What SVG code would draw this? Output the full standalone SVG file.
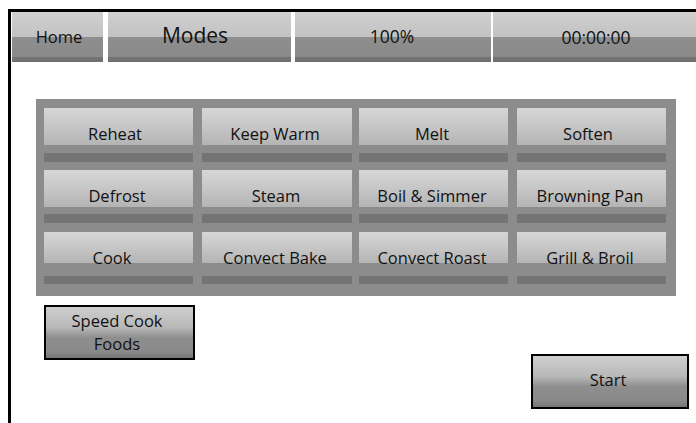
<svg xmlns="http://www.w3.org/2000/svg" width="696" height="423" viewBox="0 0 696 423">
  <defs>
    <linearGradient id="topBtn" x1="0" y1="0" x2="0" y2="1">
      <stop offset="0" stop-color="#d0d0d0"/>
      <stop offset="0.5" stop-color="#c2c2c2"/>
      <stop offset="0.5" stop-color="#8e8e8e"/>
      <stop offset="0.9" stop-color="#8a8a8a"/>
      <stop offset="0.9" stop-color="#767676"/>
      <stop offset="1" stop-color="#6e6e6e"/>
    </linearGradient>
    <linearGradient id="gridBtn" x1="0" y1="0" x2="0" y2="1">
      <stop offset="0" stop-color="#d6d6d6"/>
      <stop offset="0.45" stop-color="#c8c8c8"/>
      <stop offset="1" stop-color="#b4b4b4"/>
    </linearGradient>
    <linearGradient id="boxBtn" x1="0" y1="0" x2="0" y2="1">
      <stop offset="0" stop-color="#d0d0d0"/>
      <stop offset="0.4" stop-color="#b8b8b8"/>
      <stop offset="0.6" stop-color="#8e8e8e"/>
      <stop offset="0.85" stop-color="#8a8a8a"/>
      <stop offset="1" stop-color="#747474"/>
    </linearGradient>
  </defs>
  <style>
    .lbl { font-family: "Open Sans", "Liberation Sans", sans-serif; fill: #111; text-anchor: middle; }
    .grid { font-size: 16.5px; }
    .gb { fill: url(#gridBtn); }
    .gs { fill: #747474; }
    .frame { stroke: #000; stroke-width: 3; fill: none; }
  </style>

  <rect x="0" y="0" width="696" height="423" fill="#fff"/>

  <!-- screen frame -->
  <path class="frame" d="M9.5 423 V10.5 H696"/>

  <!-- header bar -->
  <g id="home">
    <rect x="12" y="12" width="91" height="50" fill="url(#topBtn)"/>
    <text class="lbl" x="59" y="43" font-size="16.5">Home</text>
  </g>
  <g id="modes">
    <rect x="108" y="12" width="183" height="50" fill="url(#topBtn)"/>
    <text class="lbl" x="195" y="43" font-size="21">Modes</text>
  </g>
  <g id="power">
    <rect x="295" y="12" width="196" height="50" fill="url(#topBtn)"/>
    <text class="lbl" x="392" y="43" font-size="17.5">100%</text>
  </g>
  <g id="timer">
    <rect x="493" y="12" width="203" height="50" fill="url(#topBtn)"/>
    <text class="lbl" x="596" y="44" font-size="17.5">00:00:00</text>
  </g>

  <!-- mode selection panel -->
  <g id="panel">
    <rect x="36" y="99" width="640" height="197" fill="#8c8c8c"/>
  </g>

  <g id="reheat">
    <rect class="gb" x="44" y="108" width="149" height="37"/>
    <rect class="gs" x="44" y="153" width="149" height="9"/>
    <text class="lbl grid" x="115" y="140">Reheat</text>
  </g>
  <g id="keep-warm">
    <rect class="gb" x="202" y="108" width="150" height="37"/>
    <rect class="gs" x="202" y="153" width="150" height="9"/>
    <text class="lbl grid" x="275" y="140">Keep Warm</text>
  </g>
  <g id="melt">
    <rect class="gb" x="359" y="108" width="149" height="37"/>
    <rect class="gs" x="359" y="153" width="149" height="9"/>
    <text class="lbl grid" x="432" y="140">Melt</text>
  </g>
  <g id="soften">
    <rect class="gb" x="517" y="108" width="149" height="37"/>
    <rect class="gs" x="517" y="153" width="149" height="9"/>
    <text class="lbl grid" x="588" y="140">Soften</text>
  </g>

  <g id="defrost">
    <rect class="gb" x="44" y="170" width="149" height="37"/>
    <rect class="gs" x="44" y="214" width="149" height="9"/>
    <text class="lbl grid" x="117" y="202">Defrost</text>
  </g>
  <g id="steam">
    <rect class="gb" x="202" y="170" width="150" height="37"/>
    <rect class="gs" x="202" y="214" width="150" height="9"/>
    <text class="lbl grid" x="276" y="202">Steam</text>
  </g>
  <g id="boil-simmer">
    <rect class="gb" x="359" y="170" width="149" height="37"/>
    <rect class="gs" x="359" y="214" width="149" height="9"/>
    <text class="lbl grid" x="432" y="202">Boil &amp; Simmer</text>
  </g>
  <g id="browning-pan">
    <rect class="gb" x="517" y="170" width="149" height="37"/>
    <rect class="gs" x="517" y="214" width="149" height="9"/>
    <text class="lbl grid" x="590" y="202">Browning Pan</text>
  </g>

  <g id="cook">
    <rect class="gb" x="44" y="232" width="149" height="31"/>
    <rect class="gs" x="44" y="276" width="149" height="8"/>
    <text class="lbl grid" x="112" y="264">Cook</text>
  </g>
  <g id="convect-bake">
    <rect class="gb" x="202" y="232" width="150" height="31"/>
    <rect class="gs" x="202" y="276" width="150" height="8"/>
    <text class="lbl grid" x="275" y="264">Convect Bake</text>
  </g>
  <g id="convect-roast">
    <rect class="gb" x="359" y="232" width="149" height="31"/>
    <rect class="gs" x="359" y="276" width="149" height="8"/>
    <text class="lbl grid" x="432" y="264">Convect Roast</text>
  </g>
  <g id="grill-broil">
    <rect class="gb" x="517" y="232" width="149" height="31"/>
    <rect class="gs" x="517" y="276" width="149" height="8"/>
    <text class="lbl grid" x="590" y="264">Grill &amp; Broil</text>
  </g>

  <!-- action buttons -->
  <g id="speed-cook-foods">
    <rect x="45" y="306" width="149" height="53" fill="url(#boxBtn)" stroke="#000" stroke-width="2"/>
    <text class="lbl grid" x="117" y="327">Speed Cook</text>
    <text class="lbl grid" x="117" y="350">Foods</text>
  </g>
  <g id="start">
    <rect x="532" y="355" width="156" height="53" fill="url(#boxBtn)" stroke="#000" stroke-width="2"/>
    <text class="lbl grid" x="608" y="386">Start</text>
  </g>

  <g id="connectors"/>
</svg>
